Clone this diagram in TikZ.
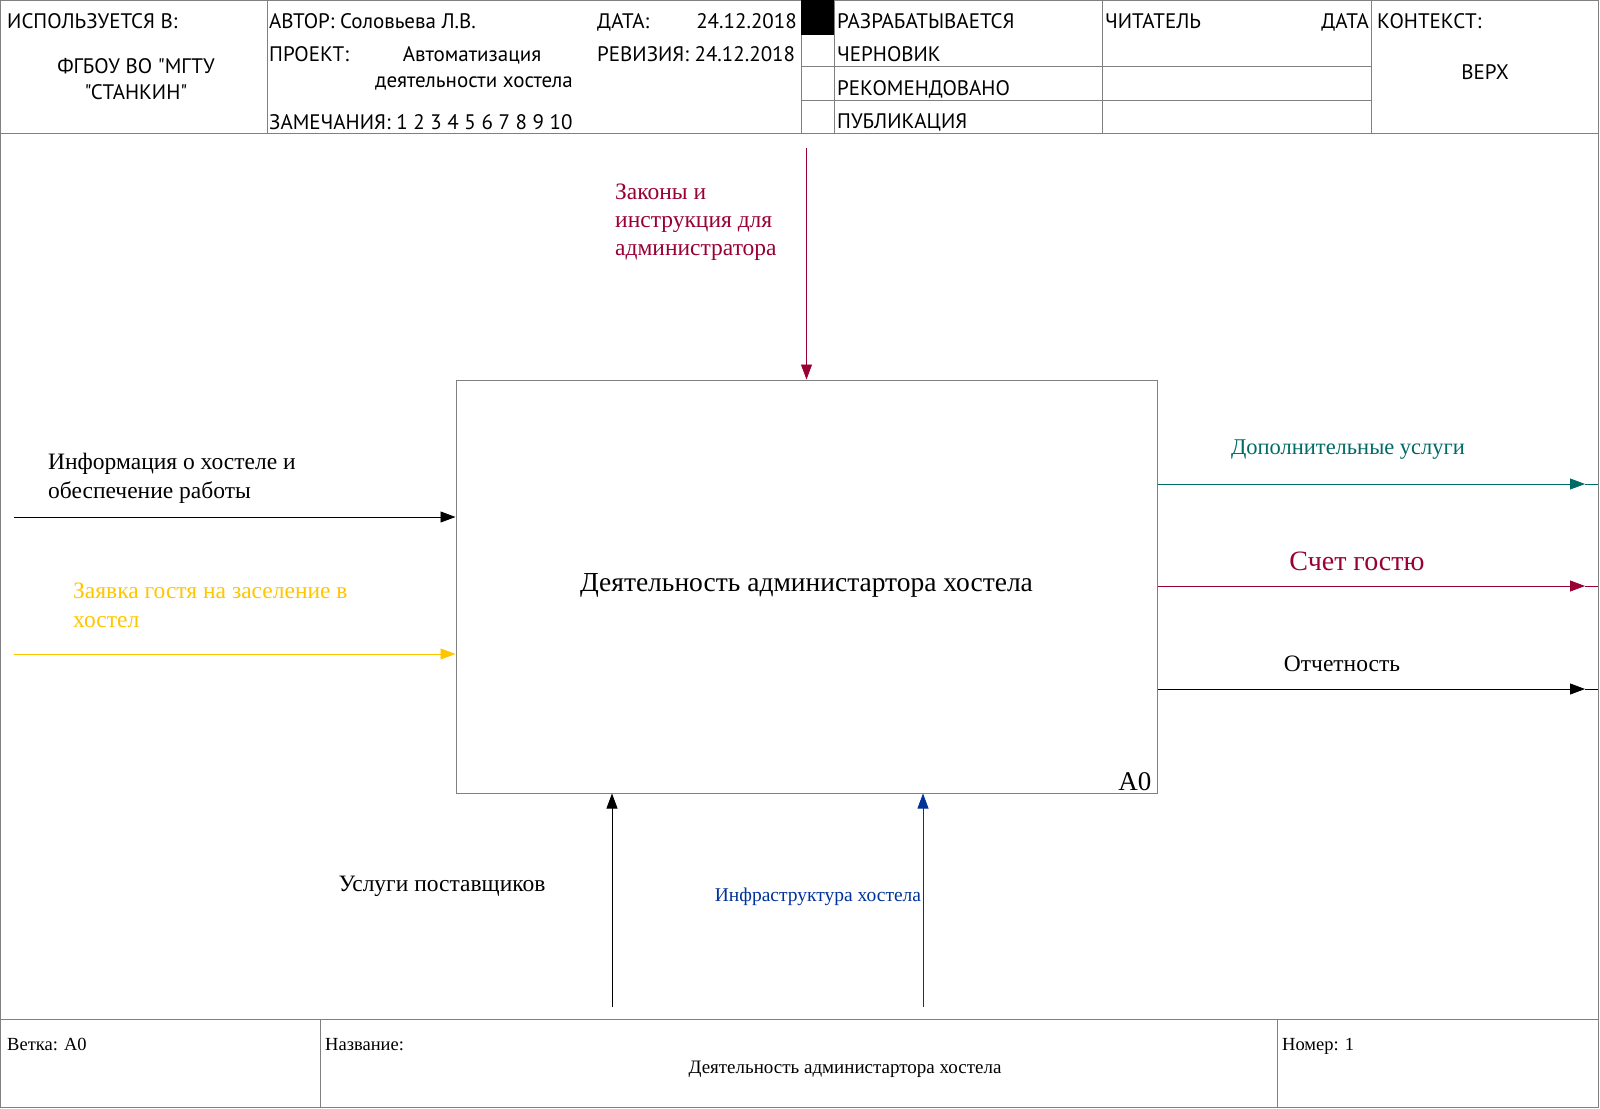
\documentclass[tikz,border=0pt]{standalone}
\usepackage{fontspec}
\setmainfont{Liberation Serif}
\newfontfamily\hdrfont{PT Sans}
\usetikzlibrary{arrows.meta}

\definecolor{gridgray}{HTML}{808080}
\definecolor{crim}{HTML}{990033}
\definecolor{tealc}{HTML}{006B66}
\definecolor{goldc}{HTML}{FFC600}
\definecolor{navyc}{HTML}{003399}

\tikzset{
  frm/.style={draw=gridgray, line width=1pt},
  hdr/.style={font=\hdrfont\fontsize{21}{24}\selectfont, inner sep=0pt},
  lbl/.style={font=\fontsize{23.5}{28.6}\selectfont, inner sep=0pt, align=left},
  foot/.style={font=\fontsize{18.5}{22}\selectfont, inner sep=0pt},
  flow/.style={line width=0.8pt, -{Triangle[length=15pt,width=11pt]}},
}

\begin{document}
\begin{tikzpicture}[x=1pt,y=-1pt]
\useasboundingbox (0,0) rectangle (1600,1108);
\draw[frm] (0.5,0.5) rectangle (1598,1107);

% header
\draw[frm] (0,133) -- (1598,133);
\draw[frm] (267,0) -- (267,133);
\draw[frm] (801,0) -- (801,133);
\draw[frm] (834,0) -- (834,133);
\draw[frm] (1102,0) -- (1102,133);
\draw[frm] (1371,0) -- (1371,133);
\draw[frm] (801,35) -- (834,35);
\draw[frm] (801,67) -- (1371,67);
\draw[frm] (801,100) -- (1371,100);
\fill (801,0.5) rectangle (834,35);

\node[hdr, anchor=base west] (used) at (7,29) {ИСПОЛЬЗУЕТСЯ В:};
\node[hdr, anchor=base] (org1) at (136,74) {ФГБОУ ВО "МГТУ};
\node[hdr, anchor=base] (org2) at (136,99) {"СТАНКИН"};
\node[hdr, anchor=base west] (author) at (269,29) {АВТОР: Соловьева Л.В.};
\node[hdr, anchor=base west] (datek) at (597,29) {ДАТА:};
\node[hdr, anchor=base east] (datev) at (797,29) {24.12.2018};
\node[hdr, anchor=base west] (proj) at (269,62) {ПРОЕКТ:};
\node[hdr, anchor=base] (proj1) at (472,62) {Автоматизация};
\node[hdr, anchor=base] (proj2) at (474,87) {деятельности хостела};
\node[hdr, anchor=base west] (rev) at (597,62) {РЕВИЗИЯ: 24.12.2018};
\node[hdr, anchor=base west] (notes) at (269,129) {ЗАМЕЧАНИЯ: 1 2 3 4 5 6 7 8 9 10};
\node[hdr, anchor=base west] (st1) at (837,29) {РАЗРАБАТЫВАЕТСЯ};
\node[hdr, anchor=base west] (st2) at (837,62) {ЧЕРНОВИК};
\node[hdr, anchor=base west] (st3) at (837,95) {РЕКОМЕНДОВАНО};
\node[hdr, anchor=base west] (st4) at (837,128) {ПУБЛИКАЦИЯ};
\node[hdr, anchor=base west] (reader) at (1105,29) {ЧИТАТЕЛЬ};
\node[hdr, anchor=base east] (rdate) at (1369,29) {ДАТА};
\node[hdr, anchor=base west] (ctx) at (1377,29) {КОНТЕКСТ:};
\node[hdr, anchor=base] (top) at (1485,79) {ВЕРХ};

% footer
\draw[frm] (0,1019) -- (1598,1019);
\draw[frm] (320,1019) -- (320,1107);
\draw[frm] (1277,1019) -- (1277,1107);
\node[foot, anchor=base west] (node) at (7,1050) {Ветка: А0};
\node[foot, anchor=base west] (title) at (325,1050) {Название:};
\node[foot, anchor=base, font=\fontsize{19}{22}\selectfont] (titlev) at (845,1073) {Деятельность администартора хостела};
\node[foot, anchor=base west] (num) at (1282,1050) {Номер: 1};

% activity
\node[frm, minimum width=701pt, minimum height=413pt, inner sep=0pt,
  font=\fontsize{27.5}{30}\selectfont] (act) at (806.5,586.5)
  {\raisebox{8pt}{Деятельность администартора хостела}};
\node[anchor=base east, inner sep=0pt, font=\fontsize{27}{30}\selectfont] (a0)
  at ([xshift=-6pt,yshift=3pt]act.south east) {А0};

% control
\coordinate (c1) at (806.5,148);
\draw[flow, crim] (c1) -- (act.north);
\node[lbl, crim, anchor=base west, font=\fontsize{23.5}{27.6}\selectfont] (c1l) at (615,255)
  {Законы и\\инструкция для\\администратора};

% inputs
\coordinate (i1) at (14,517);
\coordinate (i2) at (14,654);
\draw[flow] (i1) -- (i1 -| act.west);
\draw[flow, goldc] (i2) -- (i2 -| act.west);
\node[lbl, anchor=base west] (i1l) at (48,498)
  {Информация о хостеле и\\обеспечение работы};
\node[lbl, goldc, anchor=base west] (i2l) at (73,627)
  {Заявка гостя на заселение в\\хостел};

% outputs
\coordinate (o1) at (1585,484);
\coordinate (o2) at (1585,586);
\coordinate (o3) at (1585,689);
\draw[flow, tealc] (o1 -| act.east) -- (o1);
\draw[tealc, line width=0.8pt] (o1) -- +(13,0);
\draw[flow, crim] (o2 -| act.east) -- (o2);
\draw[crim, line width=0.8pt] (o2) -- +(13,0);
\draw[flow] (o3 -| act.east) -- (o3);
\draw[line width=0.8pt] (o3) -- +(13,0);
\node[lbl, tealc, anchor=base, font=\fontsize{22.5}{26}\selectfont] (o1l) at (1348,454) {Дополнительные услуги};
\node[lbl, crim, anchor=base, font=\fontsize{28}{32}\selectfont] (o2l) at (1357,570) {Счет гостю};
\node[lbl, anchor=base] (o3l) at (1342,671) {Отчетность};

% mechanisms
\coordinate (m1) at (612,1007);
\coordinate (m2) at (923,1007);
\draw[flow] (m1) -- (m1 |- act.south);
\draw[flow, navyc] (m2) -- (m2 |- act.south);
\node[lbl, anchor=base] (m1l) at (442,891) {Услуги поставщиков};
\node[lbl, navyc, anchor=base, font=\fontsize{19.5}{22}\selectfont] (m2l) at (818,901) {Инфраструктура хостела};
\end{tikzpicture}
\end{document}
